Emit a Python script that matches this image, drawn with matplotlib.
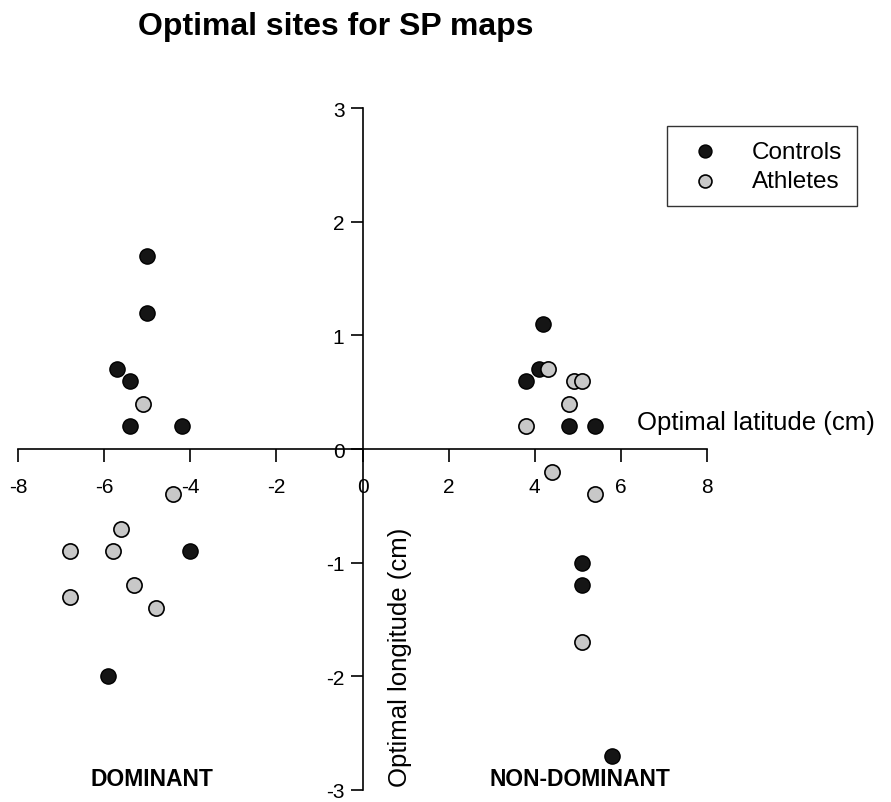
import matplotlib.pyplot as plt

plt.rcParams['font.family'] = ['Liberation Sans', 'DejaVu Sans']
plt.rcParams['axes.unicode_minus'] = False

# Controls (black) - latitude / longitude in cm
ctrl_x = [-5.0, -5.0, -5.7, -5.4, -5.4, -4.2, -4.0, -5.9,
          4.2, 4.1, 3.8, 4.8, 5.4, 5.1, 5.1, 5.8]
ctrl_y = [1.7, 1.2, 0.7, 0.6, 0.2, 0.2, -0.9, -2.0,
          1.1, 0.7, 0.6, 0.2, 0.2, -1.0, -1.2, -2.7]

# Athletes (grey)
ath_x = [-5.1, -4.4, -5.6, -6.8, -5.8, -5.3, -6.8, -4.8,
         4.3, 4.9, 5.1, 4.8, 3.8, 4.4, 5.4, 5.1]
ath_y = [0.4, -0.4, -0.7, -0.9, -0.9, -1.2, -1.3, -1.4,
         0.7, 0.6, 0.6, 0.4, 0.2, -0.2, -0.4, -1.7]

xticks = [-8, -6, -4, -2, 0, 2, 4, 6, 8]
yticks = [-3, -2, -1, 0, 1, 2, 3]

fig = plt.figure(figsize=(8.91, 8.03), dpi=100)
ax = fig.add_axes([18 / 891, 12 / 803, 689 / 891, 682 / 803])

ax.scatter(ctrl_x, ctrl_y, s=120, c='#151515', edgecolors='black',
           linewidths=1, label='Controls', zorder=3)
ax.scatter(ath_x, ath_y, s=120, c='#c8c8c8', edgecolors='black',
           linewidths=1.2, label='Athletes', zorder=3)

ax.set_xlim(-8, 8)
ax.set_ylim(-3, 3)
ax.spines['left'].set_position(('data', 0))
ax.spines['bottom'].set_position(('data', 0))
ax.spines['right'].set_visible(False)
ax.spines['top'].set_visible(False)
ax.spines['left'].set_linewidth(1.2)
ax.spines['bottom'].set_linewidth(1.2)

ax.set_xticks(xticks)
ax.set_yticks(yticks)
ax.tick_params(axis='x', direction='out', length=9, width=1.2, pad=11,
               labelsize=15)
ax.tick_params(axis='y', direction='out', length=9, width=1.2, pad=4,
               labelsize=15)

ax.text(6.37, 0.24, 'Optimal latitude (cm)', fontsize=18.5, ha='left',
        va='center', clip_on=False)
ax.text(0.88, -1.82, 'Optimal longitude (cm)', fontsize=18.5, rotation=90,
        ha='center', va='center')
ax.text(-4.88, -2.9, 'DOMINANT', fontsize=16.5, fontweight='bold',
        ha='center', va='center')
ax.text(5.05, -2.9, 'NON-DOMINANT', fontsize=16.5, fontweight='bold',
        ha='center', va='center')

fig.text(138 / 891, 1 - 35 / 803, 'Optimal sites for SP maps', fontsize=23,
         fontweight='bold', ha='left', va='baseline')

leg = fig.legend(loc='upper left', bbox_to_anchor=(667 / 891, 1 - 127 / 803),
                 fontsize=17.5, frameon=True, fancybox=False, edgecolor='black',
                 handlelength=1.9, handletextpad=1.0, borderpad=0.6,
                 labelspacing=0.3, markerscale=0.85, borderaxespad=0)
leg.get_frame().set_linewidth(1.0)

fig.savefig('out.png', dpi=100)
